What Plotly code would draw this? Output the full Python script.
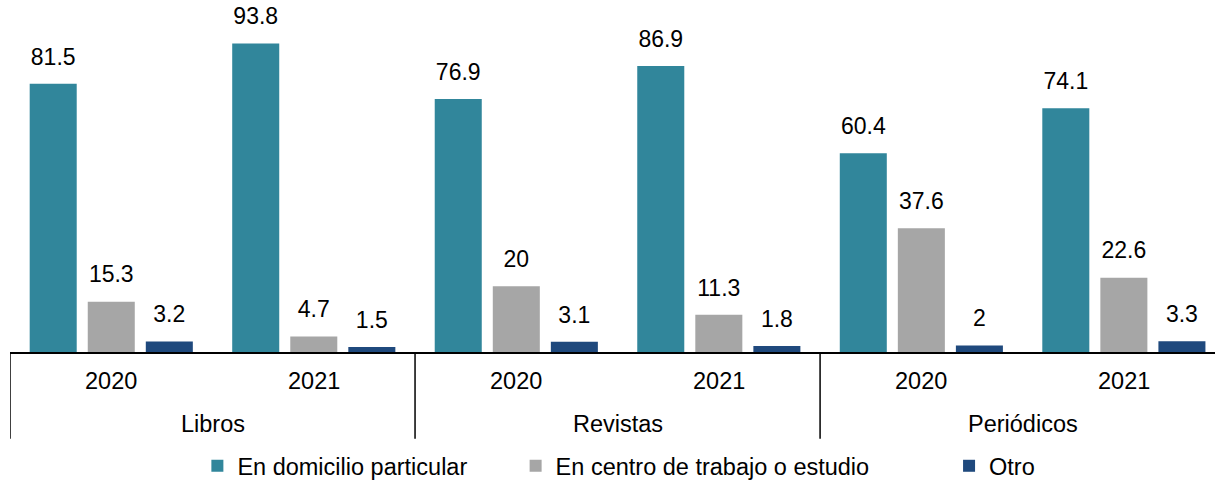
import plotly.graph_objects as go

# data
groups = ["Libros", "Revistas", "Periódicos"]
years = ["2020", "2021"]
domicilio = [81.5, 93.8, 76.9, 86.9, 60.4, 74.1]
centro = [15.3, 4.7, 20, 11.3, 37.6, 22.6]
otro = [3.2, 1.5, 3.1, 1.8, 2, 3.3]

series = [
    ("En domicilio particular", domicilio, "#31869B"),
    ("En centro de trabajo o estudio", centro, "#A6A6A6"),
    ("Otro", otro, "#1F497D"),
]
legend_x = [0.1555, 0.4196, 0.7793]

cats = [g + " " + y for g in groups for y in years]
FONT = "Arial, Liberation Sans, sans-serif"

fig = go.Figure()
for i, (name, vals, color) in enumerate(series):
    fig.add_trace(go.Bar(x=cats, y=vals, name=name,
                         marker=dict(color=color, line=dict(width=0)),
                         legend="legend" if i == 0 else f"legend{i + 1}",
                         hoverinfo="skip"))
# value labels, grouped the same way as the bars
for name, vals, color in series:
    fig.add_trace(go.Scatter(x=cats, y=vals, mode="markers+text",
                             text=[f"{v:g}" for v in vals],
                             textposition="top center",
                             textfont=dict(size=23, color="#000000", family=FONT),
                             marker=dict(size=20, opacity=0),
                             showlegend=False, hoverinfo="skip", cliponaxis=False))

# category labels under the axis
annotations = []
for c in cats:
    annotations.append(dict(x=c, y=0, xref="x", yref="paper", text=c.split(" ")[-1],
                            showarrow=False, yanchor="middle", yshift=-29,
                            font=dict(size=23.5, family=FONT, color="#000000")))
for i, g in enumerate(groups):
    annotations.append(dict(x=i * 2 + 0.5, y=0, xref="x", yref="paper", text=g,
                            showarrow=False, yanchor="middle", yshift=-72,
                            font=dict(size=23.5, family=FONT, color="#000000")))

shapes = []
for i in range(len(groups) + 1):
    shapes.append(dict(type="line", xref="x", yref="paper", x0=i * 2 - 0.5, x1=i * 2 - 0.5,
                       y0=0, y1=-0.264, line=dict(color="#000000", width=1.5)))

legends = {}
for i, lx in enumerate(legend_x):
    key = "legend" if i == 0 else f"legend{i + 1}"
    legends[key] = dict(orientation="h", x=lx, xanchor="left", y=-0.348, yanchor="middle",
                        font=dict(size=23.5, family=FONT, color="#000000"),
                        bgcolor="rgba(0,0,0,0)")

fig.update_layout(
    width=1215, height=488,
    margin=dict(l=10, r=0, t=23, b=135),
    paper_bgcolor="white", plot_bgcolor="white",
    barmode="group", bargap=0.14, bargroupgap=0.19,
    scattermode="group", scattergap=0.14,
    font=dict(family=FONT, size=22, color="#000000"),
    showlegend=True,
    annotations=annotations,
    shapes=shapes,
    **legends,
)
fig.update_xaxes(type="category", range=[-0.5, 5.45], showticklabels=False,
                 showline=True, linecolor="#000000", linewidth=1.5, ticks="",
                 showgrid=False, zeroline=False)
fig.update_yaxes(range=[0, 100], visible=False, showgrid=False, zeroline=False)

# the page's default body margin would shift the chart by 8px
fig.write_html("out.html", config={"displayModeBar": False},
               post_script="document.body.style.margin='0';")
